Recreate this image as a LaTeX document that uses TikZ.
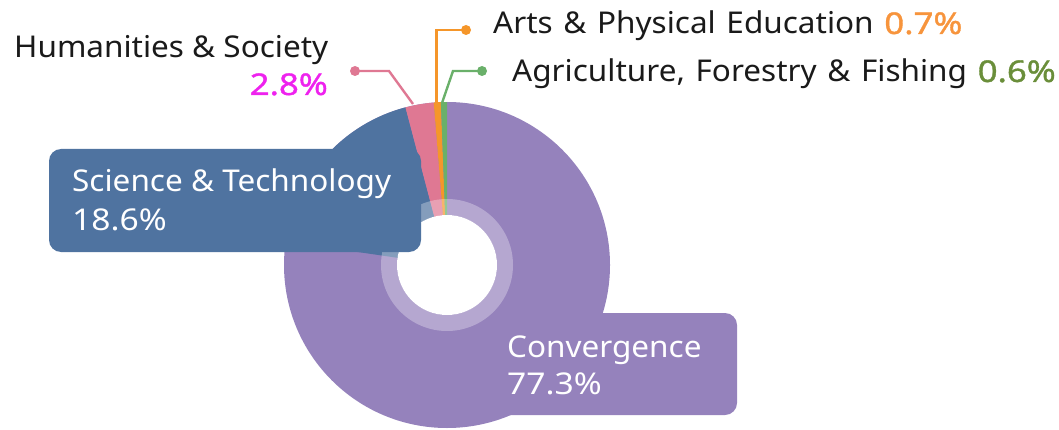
\documentclass[tikz,border=0pt]{standalone}
\usepackage{fontspec}
\setmainfont{Noto Sans}[FakeStretch=1.05]
\newfontfamily\widesp{Noto Sans}[FakeStretch=1.05, WordSpace=1.3]
\newfontfamily\numfont{Noto Sans}[FakeStretch=1.12]
\newfontfamily\numbold{Noto Sans}[FakeStretch=1.16, FakeBold=1.2]
\definecolor{cblue}{HTML}{4F73A0}
\definecolor{cpurple}{HTML}{9582BC}
\definecolor{cpink}{HTML}{DF7893}
\definecolor{corange}{HTML}{F5962A}
\definecolor{cgreen}{HTML}{6AB06A}
\definecolor{tmag}{HTML}{EE22EE}
\definecolor{torange}{HTML}{F7943C}
\definecolor{tgreen}{HTML}{6A8E3A}
\definecolor{tdark}{HTML}{1A1A1A}
\tikzset{
  lbl/.style={inner sep=0pt, font=\fontsize{30}{36}\selectfont, text=tdark},
  wlbl/.style={inner sep=0pt, font=\fontsize{30}{36}\selectfont, text=white},
  dotnode/.style={circle, inner sep=0pt, minimum size=10pt, fill=#1},
  leader/.style={line width=2.4pt, draw=#1},
  boxs/.style={rounded corners=12pt, fill=#1}
}
\begin{document}
\begin{tikzpicture}[x=1pt,y=1pt]
\useasboundingbox (0,0) rectangle (1059,429);
\coordinate (c) at (447,164);
% convergence box (behind donut)
\fill[boxs=cpurple] (495,14) rectangle (737,116);
% donut slices
\fill[cpurple] (c) circle[radius=163];
\fill[cblue] (c) -- ++(104.76:163) arc[start angle=104.76,end angle=171.72,radius=163] -- cycle;
\fill[cpink] (c) -- ++(94.68:163) arc[start angle=94.68,end angle=104.76,radius=163] -- cycle;
\fill[corange] (c) -- ++(92.16:163) arc[start angle=92.16,end angle=94.68,radius=163] -- cycle;
\fill[cgreen] (c) -- ++(90:163) arc[start angle=90,end angle=92.16,radius=163] -- cycle;
\fill[white, opacity=0.3, even odd rule] (c) circle[radius=66] (c) circle[radius=50];
\fill[white] (c) circle[radius=50];
% science box
\fill[boxs=cblue] (49,177) rectangle (421,280);
\node[wlbl, anchor=base west] (st) at (72,237) {Science \& Technology};
\node[wlbl, anchor=base west] (stv) at (72,199) {\numfont 18.6\%};
\node[wlbl, anchor=base west] (cv) at (507,72) {Convergence};
\node[wlbl, anchor=base west] (cvv) at (507,35) {\numfont 77.3\%};
% labels
\node[lbl, anchor=base west] (hs) at (14,371) {Humanities \& Society};
\node[lbl, anchor=base east, text=tmag] (hsv) at (328,334) {\numbold 2.8\%};
\node[lbl, anchor=base west] (ap) at (493,395) {\widesp Arts \& Physical Education \textcolor{torange}{\numbold 0.7\%}};
\node[lbl, anchor=base west] (af) at (512,347) {\widesp Agriculture, Forestry \& Fishing \textcolor{tgreen}{\numbold 0.6\%}};
% leaders
\node[dotnode=cpink] (dp) at (355,358) {};
\node[dotnode=corange] (do) at (466,399) {};
\node[dotnode=cgreen] (dg) at (482,358) {};
\coordinate (ep) at (413,325);
\coordinate (eo) at (436.5,326);
\coordinate (eg) at (442,326);
\draw[leader=cpink] (dp.center) -- (389,358) -- (ep);
\draw[leader=corange] (do.center) -- (436.5,399) -- (eo);
\draw[leader=cgreen] (dg.center) -- (453,358) -- (eg);
\end{tikzpicture}
\end{document}
